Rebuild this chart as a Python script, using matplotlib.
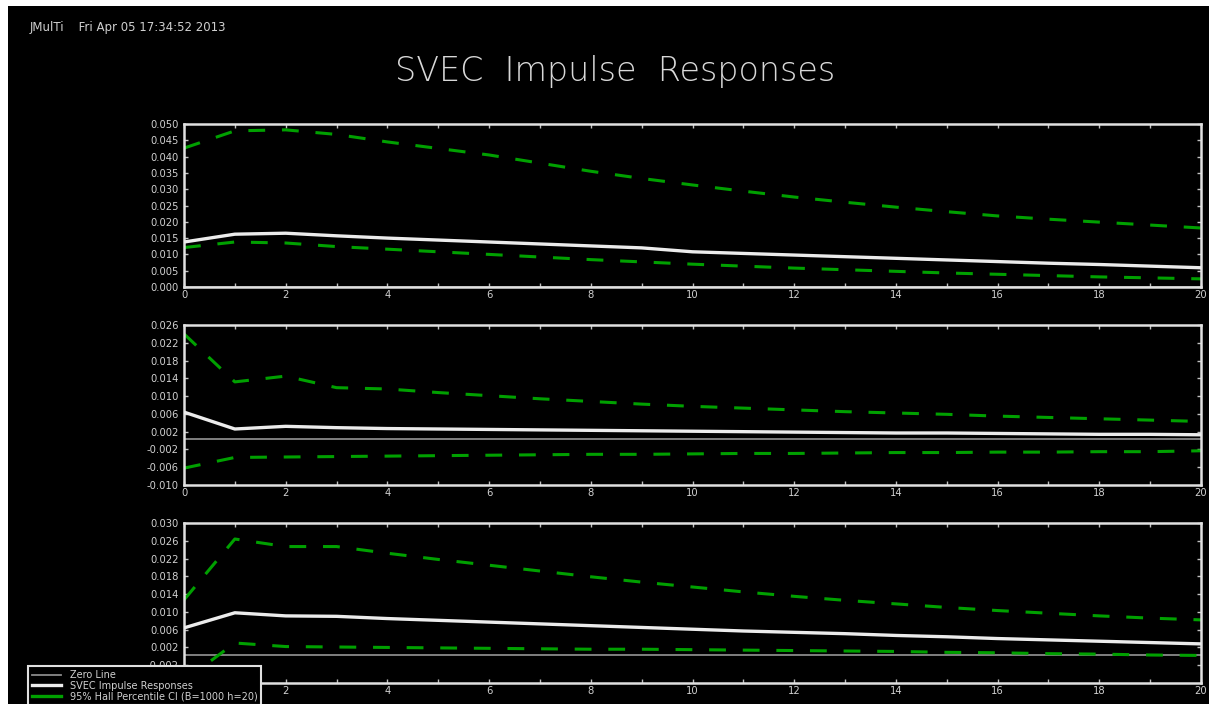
import matplotlib
matplotlib.use("Agg")
import matplotlib.pyplot as plt
from matplotlib.lines import Line2D
from matplotlib.patches import Rectangle
from matplotlib.ticker import FixedLocator, FixedFormatter

# ---------------- data ----------------
horizon = list(range(21))

irf1 = [0.0138, 0.0162, 0.0165, 0.0157, 0.0150, 0.0144, 0.0138, 0.0132, 0.0126, 0.0120,
        0.0108, 0.0103, 0.0098, 0.0093, 0.0088, 0.0083, 0.0078, 0.0073, 0.0069, 0.0064, 0.0059]
up1 = [0.0426, 0.0479, 0.0482, 0.0468, 0.0445, 0.0425, 0.0405, 0.0380, 0.0355, 0.0333,
       0.0313, 0.0294, 0.0276, 0.0260, 0.0245, 0.0231, 0.0218, 0.0208, 0.0199, 0.0190, 0.0181]
lo1 = [0.0121, 0.0138, 0.0135, 0.0124, 0.0116, 0.0108, 0.0100, 0.0092, 0.0084, 0.0077,
       0.0070, 0.0064, 0.0058, 0.0053, 0.0048, 0.0043, 0.0039, 0.0035, 0.0031, 0.0028, 0.0025]

irf2 = [0.0060, 0.0022, 0.0028, 0.0025, 0.0023, 0.0022, 0.0021, 0.0020, 0.0019, 0.0018,
        0.0017, 0.0016, 0.0015, 0.0014, 0.0013, 0.0013, 0.0012, 0.0011, 0.0010, 0.0010, 0.0009]
up2 = [0.0236, 0.0128, 0.0141, 0.0115, 0.0112, 0.0104, 0.0097, 0.0090, 0.0084, 0.0078,
       0.0073, 0.0069, 0.0065, 0.0061, 0.0058, 0.0055, 0.0051, 0.0048, 0.0045, 0.0042, 0.0039]
lo2 = [-0.0066, -0.0042, -0.0041, -0.0040, -0.0039, -0.0038, -0.0037, -0.0036, -0.0035, -0.0035,
       -0.0034, -0.0033, -0.0033, -0.0032, -0.0031, -0.0031, -0.0030, -0.0030, -0.0029, -0.0029, -0.0027]

irf3 = [0.0060, 0.0094, 0.0087, 0.0086, 0.0081, 0.0077, 0.0073, 0.0069, 0.0065, 0.0061,
        0.0057, 0.0053, 0.0050, 0.0047, 0.0043, 0.0040, 0.0036, 0.0033, 0.0030, 0.0027, 0.0024]
up3 = [0.0123, 0.0260, 0.0243, 0.0243, 0.0228, 0.0214, 0.0201, 0.0188, 0.0175, 0.0163,
       0.0152, 0.0141, 0.0131, 0.0122, 0.0114, 0.0106, 0.0099, 0.0093, 0.0087, 0.0082, 0.0078]
lo3 = [-0.0059, 0.0026, 0.0018, 0.0017, 0.0016, 0.0015, 0.0014, 0.0013, 0.0012, 0.0012,
       0.0011, 0.0010, 0.0009, 0.0008, 0.0007, 0.0005, 0.0004, 0.0002, 0.0001, -0.0001, -0.0002]

xtick_vals = list(range(0, 21, 2))
xtick_labels = [str(v) for v in xtick_vals]

ytick1_vals = [0.000, 0.005, 0.010, 0.015, 0.020, 0.025, 0.030, 0.035, 0.040, 0.045, 0.050]
ytick1_labels = ["0.000", "0.005", "0.010", "0.015", "0.020", "0.025", "0.030", "0.035", "0.040", "0.045", "0.050"]
ytick2_vals = [0.0256, 0.0216, 0.0176, 0.0136, 0.0096, 0.0056, 0.0016, -0.0024, -0.0064, -0.0104]
ytick2_labels = ["0.026", "0.022", "0.018", "0.014", "0.010", "0.006", "0.002", "-0.002", "-0.006", "-0.010"]
ytick3_vals = [0.0296, 0.0256, 0.0216, 0.0176, 0.0136, 0.0096, 0.0056, 0.0016, -0.0024]
ytick3_labels = ["0.030", "0.026", "0.022", "0.018", "0.014", "0.010", "0.006", "0.002", "-0.002"]

title = "SVEC  Impulse  Responses"
header = "JMulTi    Fri Apr 05 17:34:52 2013"
legend_labels = ["Zero Line", "SVEC Impulse Responses", "95% Hall Percentile CI (B=1000 h=20)"]

# ---------------- style ----------------
W, H = 1209, 704
fig = plt.figure(figsize=(W / 100, H / 100), dpi=100, facecolor="black")

FG = "#d0d0d0"
GREEN = "#00a000"
WHITE = "#ececec"
ZERO = "#8a8a8a"


def px_axes(left, top, right, bottom):
    return fig.add_axes([left / W, 1 - bottom / H, (right - left) / W, (bottom - top) / H])


panels = [
    (px_axes(184, 124, 1201, 287), irf1, up1, lo1, ytick1_vals, ytick1_labels, (0.0, 0.050)),
    (px_axes(184, 325, 1201, 485), irf2, up2, lo2, ytick2_vals, ytick2_labels, (-0.0104, 0.0256)),
    (px_axes(184, 523, 1201, 683), irf3, up3, lo3, ytick3_vals, ytick3_labels, (-0.0064, 0.0296)),
]

for ax, irf, up, lo, yv, yl, ylim in panels:
    ax.set_facecolor("black")
    ax.axhline(0, color=ZERO, lw=1.3, zorder=1)
    ax.plot(horizon, irf, color=WHITE, lw=2.4, zorder=3, solid_capstyle="butt")
    ax.plot(horizon, up, color=GREEN, lw=2.2, dashes=(5.5, 5.5), zorder=2)
    ax.plot(horizon, lo, color=GREEN, lw=2.2, dashes=(5.5, 5.5), zorder=2)
    ax.set_xlim(0, 20)
    ax.set_ylim(*ylim)
    for s in ax.spines.values():
        s.set_color("#e0e0e0")
        s.set_linewidth(1.8)
    ax.xaxis.set_major_locator(FixedLocator(xtick_vals))
    ax.xaxis.set_major_formatter(FixedFormatter(xtick_labels))
    ax.xaxis.set_minor_locator(FixedLocator(horizon))
    ax.yaxis.set_major_locator(FixedLocator(yv))
    ax.yaxis.set_major_formatter(FixedFormatter(yl))
    ax.tick_params(axis="both", which="both", direction="in", top=True, right=True,
                   color="#c0c0c0", labelcolor=FG, labelsize=7.2, length=3, width=1)
    ax.tick_params(axis="x", pad=2)
    ax.tick_params(axis="y", pad=4)

# header and title
fig.text(30 / W, 1 - 28 / H, header, color=FG, fontsize=8.5, va="center", ha="left",
         family="DejaVu Sans")
fig.text(615 / W, 1 - 71 / H, title, color="#d8d8d8", fontsize=24, va="center", ha="center",
         family="DejaVu Sans", fontweight="light")

# white margins (top and left) as in the screenshot
fig.patches.append(Rectangle((0, 1 - 6 / H), 1, 6 / H, transform=fig.transFigure,
                             facecolor="white", edgecolor="none", zorder=10))
fig.patches.append(Rectangle((0, 0), 8 / W, 1, transform=fig.transFigure,
                             facecolor="white", edgecolor="none", zorder=10))

# legend
leg_handles = [Line2D([], [], color=ZERO, lw=1.3),
               Line2D([], [], color=WHITE, lw=2.4),
               Line2D([], [], color=GREEN, lw=2.4)]
leg = fig.legend(leg_handles, legend_labels, loc="lower left",
                 bbox_to_anchor=(23 / W, -6 / H), frameon=True, fontsize=7,
                 handlelength=3.0, handletextpad=0.9, borderpad=0.4, labelspacing=0.05,
                 fancybox=False, facecolor="black", edgecolor="#e0e0e0", framealpha=1)
leg.get_frame().set_linewidth(1.5)
for t in leg.get_texts():
    t.set_color(FG)
leg.set_zorder(20)

fig.savefig("out.png", dpi=100, facecolor="black")
